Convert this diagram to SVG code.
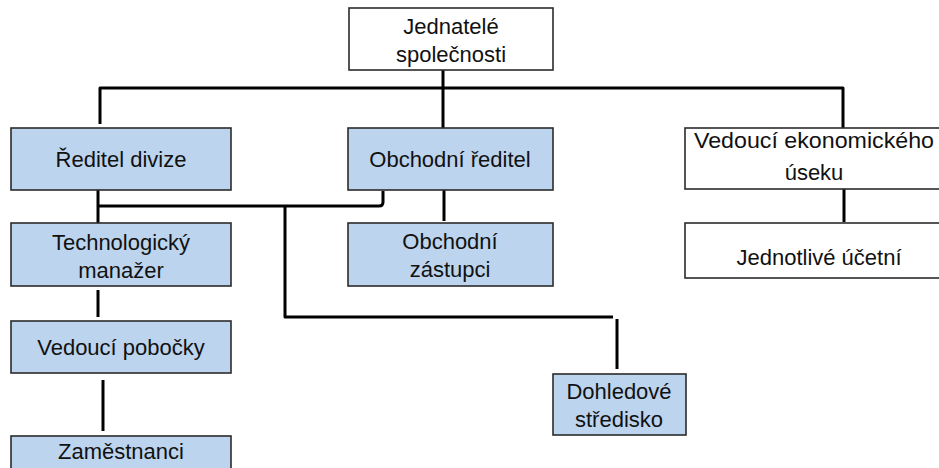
<svg xmlns="http://www.w3.org/2000/svg" width="939" height="468" viewBox="0 0 939 468">
<style>
.box{stroke:#2b2b2b;stroke-width:1.6}
.blue{fill:#bcd4ee}
.white{fill:#ffffff}
.t{font-family:"Liberation Sans",Arial,sans-serif;font-size:22px;fill:#111;text-anchor:middle}
.c{fill:none;stroke:#000;stroke-width:3;stroke-linejoin:round}
</style>
<rect width="939" height="468" fill="#ffffff"/>
<g id="connectors">
<path class="c" d="M443 70V128"/>
<path class="c" d="M100 124V88H843V128"/>
<path class="c" d="M98 190V223"/>
<path class="c" d="M98 206H379Q383 206 383 202V191"/>
<path class="c" d="M285 206V317H613"/>
<path class="c" d="M617 319V369"/>
<path class="c" d="M444 190V221"/>
<path class="c" d="M98 290V317"/>
<path class="c" d="M103 380V431"/>
<path class="c" d="M844 189V222"/>
</g>
<g id="jednatele">
<rect class="box white" x="349" y="8" width="204" height="62"/>
<text class="t" x="451" y="34">Jednatelé</text>
<text class="t" x="451" y="62">společnosti</text>
</g>
<g id="reditel-divize">
<rect class="box blue" x="11" y="128" width="220" height="62"/>
<text class="t" x="121" y="167">Ředitel divize</text>
</g>
<g id="obchodni-reditel">
<rect class="box blue" x="348" y="128" width="205" height="62"/>
<text class="t" x="450" y="167">Obchodní ředitel</text>
</g>
<g id="vedouci-ekonomickeho">
<rect class="box white" x="685" y="128" width="262" height="61"/>
<text class="t" x="814" y="148" textLength="240" lengthAdjust="spacingAndGlyphs">Vedoucí ekonomického</text>
<text class="t" x="814" y="180">úseku</text>
</g>
<g id="technologicky-manazer">
<rect class="box blue" x="11" y="223" width="220" height="63"/>
<text class="t" x="121" y="250">Technologický</text>
<text class="t" x="121" y="278">manažer</text>
</g>
<g id="obchodni-zastupci">
<rect class="box blue" x="348" y="223" width="205" height="63"/>
<text class="t" x="450" y="249">Obchodní</text>
<text class="t" x="450" y="277">zástupci</text>
</g>
<g id="jednotlive-ucetni">
<rect class="box white" x="685" y="223" width="262" height="55"/>
<text class="t" x="819" y="265">Jednotlivé účetní</text>
</g>
<g id="vedouci-pobocky">
<rect class="box blue" x="11" y="321" width="220" height="52"/>
<text class="t" x="121" y="355">Vedoucí pobočky</text>
</g>
<g id="dohledove-stredisko">
<rect class="box blue" x="553" y="374" width="133" height="61"/>
<text class="t" x="619" y="399">Dohledové</text>
<text class="t" x="619" y="427">středisko</text>
</g>
<g id="zamestnanci">
<rect class="box blue" x="11" y="436" width="220" height="40"/>
<text class="t" x="121" y="459">Zaměstnanci</text>
</g>
</svg>
